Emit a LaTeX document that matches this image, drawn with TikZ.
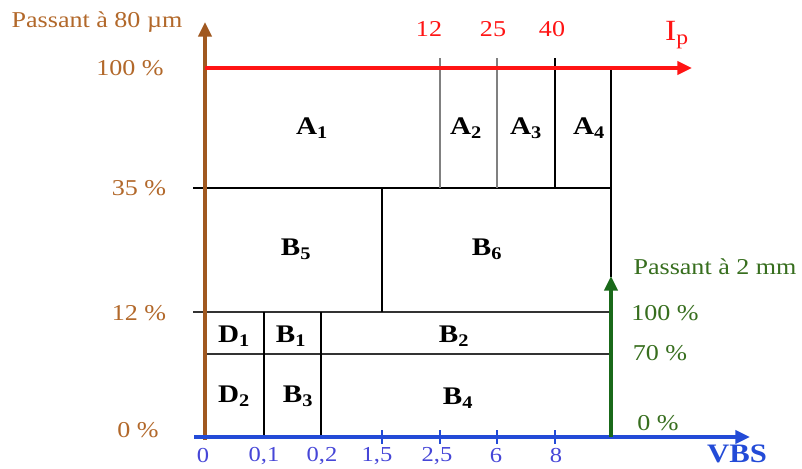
\documentclass[tikz,border=0pt]{standalone}
\usepackage{fontspec}
\setmainfont[FakeStretch=1.15]{Liberation Serif}
\usetikzlibrary{arrows.meta}
\definecolor{marron}{RGB}{160,88,32}
\definecolor{marrontexto}{RGB}{178,104,42}
\definecolor{rojo}{RGB}{255,20,20}
\definecolor{azul}{RGB}{35,75,215}
\definecolor{azultexto}{RGB}{70,70,215}
\definecolor{verde}{RGB}{25,105,25}
\definecolor{verdetexto}{RGB}{55,110,30}

\begin{document}
\begin{tikzpicture}[x=0.75pt,y=-0.75pt,
		eje/.style={line width=2.5pt,-{Triangle[length=11pt,width=10pt]}},
		linea/.style={line width=1.3pt,black},
		lineagris/.style={line width=2pt,gray},
		zona/.style={font=\fontsize{19}{22}\selectfont\bfseries},
		texto/.style={font=\fontsize{17}{20}\selectfont}]
		\useasboundingbox (0,0) rectangle (802,468);
		
		% Cuadrícula de las zonas
		\draw[linea] (193,188) -- (611,188);
		\draw[linea,black!80] (193,312) -- (611,312);
		\draw[linea,black!80] (205,354) -- (611,354);
		\draw[linea] (611,68) -- (611,277);
		\draw[lineagris] (440,58) -- (440,188);
		\draw[lineagris] (497,58) -- (497,188);
		\draw[linea] (555,58) -- (555,188);
		\draw[linea] (382,188) -- (382,312);
		\draw[linea] (264,312) -- (264,437);
		\draw[linea] (321,312) -- (321,437);
		
		% Marcas del eje VBS
		\foreach \x in {382,440,497,555}
			\draw[azul,line width=1.2pt] (\x,430) -- (\x,444);
		
		% Ejes
		\coordinate (yini) at (205,440);
		\coordinate (yfin) at (205,22);
		\coordinate (xini) at (194,437);
		\coordinate (xfin) at (750,437);
		\coordinate (rini) at (205,68);
		\coordinate (rfin) at (692,68);
		\coordinate (vini) at (611,437);
		\coordinate (vfin) at (611,276);
		\draw[eje,marron] (yini) -- (yfin);
		\draw[eje,rojo] (rini) -- (rfin);
		\draw[eje,azul] (xini) -- (xfin);
		\draw[eje,verde] (vini) -- (vfin);
		
		% Eje vertical (marrón)
		\node[texto,marrontexto] (p80) at (97,22) {Passant à 80 µm};
		\node[texto,marrontexto] (y100) at (130,68) {100 \%};
		\node[texto,marrontexto] (y35) at (139,188) {35 \%};
		\node[texto,marrontexto] (y12) at (139,313) {12 \%};
		\node[texto,marrontexto] (y0) at (138,430) {0 \%};
		
		% Eje Ip (rojo)
		\node[texto,rojo] (r12) at (429,29) {12};
		\node[texto,rojo] (r25) at (493,29) {25};
		\node[texto,rojo] (r40) at (552,29) {40};
		\node[rojo,font=\fontsize{22}{24}\selectfont] (ip) at (677,35) {I\textsubscript{p}};
		
		% Zonas
		\node[zona] (a1) at (312,128) {A\textsubscript{1}};
		\node[zona] (a2) at (466,128) {A\textsubscript{2}};
		\node[zona] (a3) at (526,128) {A\textsubscript{3}};
		\node[zona] (a4) at (589,128) {A\textsubscript{4}};
		\node[zona] (b5) at (296,249) {B\textsubscript{5}};
		\node[zona] (b6) at (487,249) {B\textsubscript{6}};
		\node[zona] (d1) at (234,336) {D\textsubscript{1}};
		\node[zona] (b1) at (291,336) {B\textsubscript{1}};
		\node[zona] (b2) at (454,336) {B\textsubscript{2}};
		\node[zona] (d2) at (234,396) {D\textsubscript{2}};
		\node[zona] (b3) at (298,396) {B\textsubscript{3}};
		\node[zona] (b4) at (458,398) {B\textsubscript{4}};
		
		% Eje vertical (verde)
		\node[texto,verdetexto] (p2) at (715,267) {Passant à 2 mm};
		\node[texto,verdetexto] (v100) at (665,313) {100 \%};
		\node[texto,verdetexto] (v70) at (660,353) {70 \%};
		\node[texto,verdetexto] (v0) at (658,423) {0 \%};
		
		% Eje VBS (azul)
		\node[texto,azultexto,font=\fontsize{16}{19}\selectfont] (x0) at (203,456) {0};
		\node[texto,azultexto,font=\fontsize{16}{19}\selectfont] (x01) at (264,456) {0,1};
		\node[texto,azultexto,font=\fontsize{16}{19}\selectfont] (x02) at (322,456) {0,2};
		\node[texto,azultexto,font=\fontsize{16}{19}\selectfont] (x15) at (377,456) {1,5};
		\node[texto,azultexto,font=\fontsize{16}{19}\selectfont] (x25) at (437,456) {2,5};
		\node[texto,azultexto,font=\fontsize{16}{19}\selectfont] (x6) at (496,456) {6};
		\node[texto,azultexto,font=\fontsize{16}{19}\selectfont] (x8) at (556,456) {8};
		\node[azul,font=\fontsize{20}{22}\selectfont\bfseries] (vbs) at (737,454) {VBS};
	\end{tikzpicture}
\end{document}
